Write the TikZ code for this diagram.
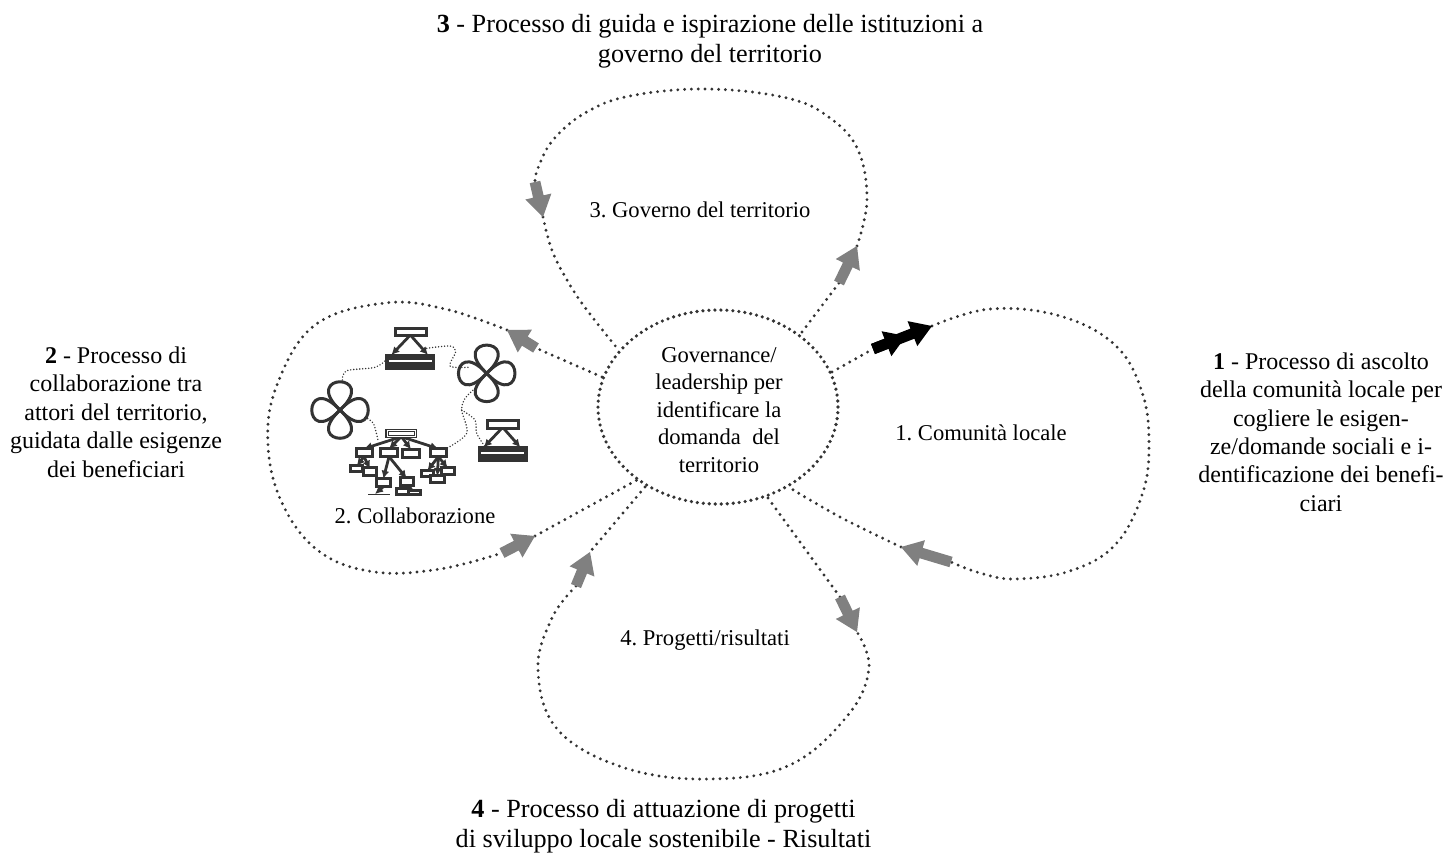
\documentclass[tikz,border=0pt]{standalone}
\usepackage{fontspec}
\setmainfont{Liberation Serif}
\usetikzlibrary{arrows.meta,calc,shapes.geometric}
\definecolor{dk}{HTML}{333333}
\definecolor{arr}{HTML}{808080}
\frenchspacing
\tikzset{
  loopline/.style={draw=dk,line width=1.6pt,line cap=round,dash pattern=on 0pt off 3.4pt},
  thindot/.style={draw=dk,line width=.8pt,line cap=round,dash pattern=on 0pt off 1.5pt},
  lab/.style={align=center,inner sep=0pt},
  big/.style={lab,font=\fontsize{13.1}{15}\selectfont},
  side/.style={lab,font=\fontsize{12}{14.2}\selectfont},
  inner/.style={lab,font=\fontsize{11.3}{13.75}\selectfont},
  petal/.style={draw=dk,line width=1.5pt},
  ibox/.style={draw=dk,fill=white,line width=1.5pt},
  iarrow/.style={draw=dk,line width=1.4pt,-{Latex[length=4pt,width=4pt]}},
}
% block arrow: tail coordinate, tip coordinate, colour
\newcommand{\blockarrow}[3]{%
  \path let \p1=($(#2)-(#1)$), \n1={atan2(\y1,\x1)}, \n2={veclen(\x1,\y1)} in
    [fill=#3] ($(#1)+(\n1+90:2.7pt)$) -- ++(\n1:\n2-10.5pt) -- ++(\n1+90:4pt) -- (#2)
    -- ($(#1)+(\n1:\n2-10.5pt)+(\n1-90:6.7pt)$) -- ++(\n1+90:4pt) -- ($(#1)+(\n1-90:2.7pt)$) -- cycle;}
\newcommand{\flower}[2]{%
  \foreach \a in {0,90,180,270}{
    \draw[petal,rotate around={\a:(#1,#2)}] (#1,#2) .. controls +(-120,-113) and +(120,-113) .. (#1,#2);
  }}
\newcommand{\triicon}[2]{%
  \begin{scope}[shift={(#1,#2)}]
    \draw[iarrow] (71,20) -- (14,80);
    \draw[iarrow] (71,20) -- (124,80);
    \draw[ibox] (25,0) rectangle (118,22);
    \draw[draw=dk,line width=1.2pt,fill=dk] (0,80) rectangle (142,120);
    \draw[white,line width=1pt] (6,97) -- (136,97);
  \end{scope}}
\begin{document}
\begin{tikzpicture}[x=.5pt,y=-.5pt]
\useasboundingbox (0,0) rectangle (1456,856);
\fill[white] (0,0) rectangle (1456,856);

% centre
\node[draw=dk,line width=1.8pt,dash pattern=on 0pt off 3pt,line cap=round,ellipse,minimum width=120pt,minimum height=97pt,inner sep=0pt] (hub) at (718,407) {};
\node[inner] (hubtxt) at (719,410) {Governance/\\leadership per\\identificare la\\domanda\ \ del\\territorio};

% arrow tips
\coordinate (a1tip) at (932,326); \coordinate (a1tail) at (873,349);
\coordinate (b1tip) at (901,547); \coordinate (b1tail) at (951,562);
\coordinate (a3tip) at (857,246); \coordinate (a3tail) at (839,283);
\coordinate (b3tip) at (543,217); \coordinate (b3tail) at (535,182);
\coordinate (a2tip) at (507,330); \coordinate (a2tail) at (536,348);
\coordinate (b2tip) at (535,536); \coordinate (b2tail) at (502,553);
\coordinate (a4tip) at (857,632); \coordinate (a4tail) at (840,597);
\coordinate (b4tip) at (590,552); \coordinate (b4tail) at (576,586);
\coordinate (h1o) at (832,372); \coordinate (h1i) at (790,488);
\coordinate (h3o) at (802,332); \coordinate (h3i) at (617,348);
\coordinate (h2o) at (602,377); \coordinate (h2i) at (637,480);
\coordinate (h4o) at (768,498); \coordinate (h4i) at (645,487);

% loop 1
\draw[loopline] (h1o) -- (a1tail);
\draw[loopline] plot[smooth,tension=.65] coordinates {(a1tip) (990,309) (1060,316) (1115,345) (1142,392) (1149,445) (1142,495) (1115,545) (1070,571) (1015,579) (980,573) (b1tail)};
\draw[loopline] plot[smooth,tension=.6] coordinates {(b1tip) (840,517) (h1i)};
% loop 3
\draw[loopline] (h3o) -- (a3tail);
\draw[loopline] plot[smooth,tension=.65] coordinates {(a3tip) (867,200) (858,150) (830,118) (787,98) (707,89) (630,96) (585,113) (553,140) (538,168) (b3tail)};
\draw[loopline] plot[smooth,tension=.6] coordinates {(b3tip) (553,253) (573,290) (593,318) (h3i)};
% loop 2
\draw[loopline] (h2o) -- (a2tail);
\draw[loopline] plot[smooth,tension=.65] coordinates {(a2tip) (445,309) (385,303) (315,325) (277,385) (268,445) (283,505) (320,552) (375,572) (440,569) (b2tail)};
\draw[loopline] (b2tip) -- (h2i);
% loop 4
\draw[loopline] (h4i) -- (b4tip);
\draw[loopline] plot[smooth,tension=.65] coordinates {(b4tail) (552,618) (538,670) (558,730) (625,768) (710,779) (790,765) (848,715) (869,668) (a4tip)};
\draw[loopline] (a4tail) -- (h4o);

% block arrows
\blockarrow{a3tail}{a3tip}{arr}
\blockarrow{b3tail}{b3tip}{arr}
\blockarrow{a2tail}{a2tip}{arr}
\blockarrow{b2tail}{b2tip}{arr}
\blockarrow{a4tail}{a4tip}{arr}
\blockarrow{b4tail}{b4tip}{arr}
\blockarrow{b1tail}{b1tip}{arr}
\coordinate (a1mid) at (906,336);
\blockarrow{a1tail}{a1mid}{black}
\blockarrow{a1tail}{a1tip}{black}

% icon
\begin{scope}[shift={(290,310)},x=.1667pt,y=-.1667pt]
  \flower{150}{300}
  \flower{590}{190}
  \triicon{290}{55}
  \triicon{567}{332}
  \draw[thindot] plot[smooth,tension=.5] coordinates {(157,210) (170,182) (255,172) (290,148)};
  \draw[thindot] plot[smooth,tension=.5] coordinates {(410,115) (480,108) (497,125) (480,168) (535,172)};
  \draw[thindot] plot[smooth,tension=.5] coordinates {(555,235) (525,265) (515,300) (530,370) (470,415)};
  \draw[thindot] plot[smooth,tension=.5] coordinates {(515,300) (555,330) (560,370) (585,410)};
  \draw[thindot] plot[smooth,tension=.5] coordinates {(225,322) (250,340) (265,395)};
  % org chart
  \foreach \xa/\ya in {222/428,297/428,363/430,445/428} \draw[iarrow] (334,380) -- (\xa,\ya-12);
  \draw[iarrow] (222,440) -- (200,468);
  \draw[iarrow] (222,440) -- (240,476);
  \draw[iarrow] (297,440) -- (280,506);
  \draw[iarrow] (297,440) -- (350,505);
  \draw[iarrow] (280,530) -- (255,552);
  \draw[iarrow] (350,527) -- (335,538);
  \draw[iarrow] (350,527) -- (372,542);
  \draw[iarrow] (445,440) -- (412,482);
  \draw[iarrow] (445,440) -- (442,498);
  \draw[iarrow] (445,440) -- (473,474);
  \draw[draw=dk,fill=white,line width=.7pt] (288,358) rectangle (380,383);
  \draw[draw=dk,fill=white,line width=.5pt] (296,365) rectangle (372,377);
  \foreach \l/\t/\r/\b in {198/415/247/440,272/415/322/440,338/417/388/442,420/415/470/440,
     180/465/218/485,220/473/260/495,260/505/300/530,330/503/370/527,318/535/355/552,355/540/390/552,
     393/480/430/498,455/472/492/492,422/497/462/517}
    \draw[draw=dk,line width=1.5pt,fill=white] (\l,\t) rectangle (\r,\b);
  \draw[draw=dk,line width=.5pt] (235,552) -- (300,552);
\end{scope}

% labels
\node[big] (l3t) at (710,41) {\textbf{3} - Processo di guida e ispirazione delle istituzioni a\\governo del territorio};
\node[side] (l2t) at (116,412) {\textbf{2} - Processo di\\collaborazione tra\\attori del territorio,\\guidata dalle esigenze\\dei beneficiari};
\node[side] (l1t) at (1321,432) {\textbf{1} - Processo di ascolto\\della comunità locale per\\cogliere le esigen-\\ze/domande sociali e i-\\dentificazione dei benefi-\\ciari};
\node[big] (l4t) at (663.5,826) {\textbf{4} - Processo di attuazione di progetti\\di sviluppo locale sostenibile - Risultati};
\node[inner] (n3) at (700,210) {3. Governo del territorio};
\node[inner] (n1) at (981,433) {1. Comunità locale};
\node[inner] (n2) at (415,516) {2. Collaborazione};
\node[inner] (n4) at (705,640) {4. Progetti/risultati};
\end{tikzpicture}
\end{document}
